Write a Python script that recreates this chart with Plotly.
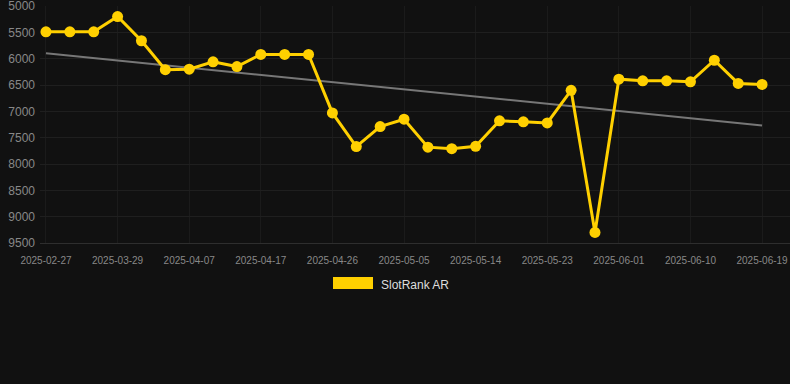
import numpy as np
import plotly.graph_objects as go

dates = ["2025-02-27", "2025-03-09", "2025-03-19", "2025-03-29", "2025-04-01", "2025-04-04",
         "2025-04-07", "2025-04-10", "2025-04-14", "2025-04-17", "2025-04-20", "2025-04-23",
         "2025-04-26", "2025-04-29", "2025-05-02", "2025-05-05", "2025-05-08", "2025-05-11",
         "2025-05-14", "2025-05-17", "2025-05-20", "2025-05-23", "2025-05-26", "2025-05-29",
         "2025-06-01", "2025-06-04", "2025-06-07", "2025-06-10", "2025-06-13", "2025-06-16",
         "2025-06-19"]
ranks = [5490, 5490, 5490, 5200, 5660, 6210, 6200, 6060, 6150, 5920, 5920, 5920,
         7030, 7670, 7290, 7150, 7680, 7710, 7665, 7180, 7200, 7220, 6600, 9300,
         6390, 6420, 6420, 6440, 6030, 6470, 6490]
tick_labels = dates[::3]
y_ticks = [5000, 5500, 6000, 6500, 7000, 7500, 8000, 8500, 9000, 9500]
series_name = "SlotRank AR"

idx = np.arange(len(ranks))
slope, intercept = np.polyfit(idx, ranks, 1)
trend = slope * idx + intercept

fig = go.Figure()
fig.add_trace(go.Scatter(x=dates, y=trend, mode="lines",
                         line=dict(color="#777777", width=2), showlegend=False,
                         hoverinfo="skip"))
fig.add_trace(go.Scatter(x=dates, y=ranks, mode="lines+markers", name=series_name,
                         line=dict(color="#FFD000", width=3),
                         marker=dict(color="#FFD000", size=11), showlegend=False))

W, H = 790, 384
ml, mr, mt, mb = 40, 0, 6, 141
pw, ph = W - ml - mr, H - mt - mb

def px(x):
    return (x - ml) / pw

def py(y):
    return (H - mb - y) / ph

fig.add_shape(type="rect", xref="paper", yref="paper",
              x0=px(333), x1=px(373), y0=py(289), y1=py(277),
              fillcolor="#FFD000", line=dict(width=0))
fig.add_annotation(text=series_name, xref="paper", yref="paper",
                   x=px(379), y=py(284.5), xanchor="left", yanchor="middle",
                   showarrow=False, font=dict(size=12, color="#dddddd",
                                              family="Liberation Sans, Arial, sans-serif"))

fig.update_layout(
    width=W, height=H,
    margin=dict(l=ml, r=mr, t=mt, b=mb),
    paper_bgcolor="#111111", plot_bgcolor="#111111",
    font=dict(family="Liberation Sans, Arial, sans-serif", color="#888888"),
    xaxis=dict(type="category", tickmode="array", tickvals=tick_labels, ticktext=tick_labels,
               range=[-0.25, len(dates) - 1 + 1.17],
               showgrid=True, gridcolor="#1b1b1b", gridwidth=1,
               zeroline=False, showline=True, linecolor="#2e2e2e", linewidth=1,
               ticks="", ticklabelstandoff=8,
               ticklabeloverflow="allow",
               tickfont=dict(size=10, color="#888888")),
    yaxis=dict(range=[9500, 5000], tickvals=y_ticks, showgrid=True, gridcolor="#1f1f1f",
               zeroline=False, ticks="", ticklabelstandoff=4, ticklabeloverflow="allow",
               tickfont=dict(size=12, color="#888888")),
    showlegend=False,
)

fig.write_html("out.html", config={"displayModeBar": False},
               post_script="document.body.style.margin='0';document.body.style.background='#111111';")
